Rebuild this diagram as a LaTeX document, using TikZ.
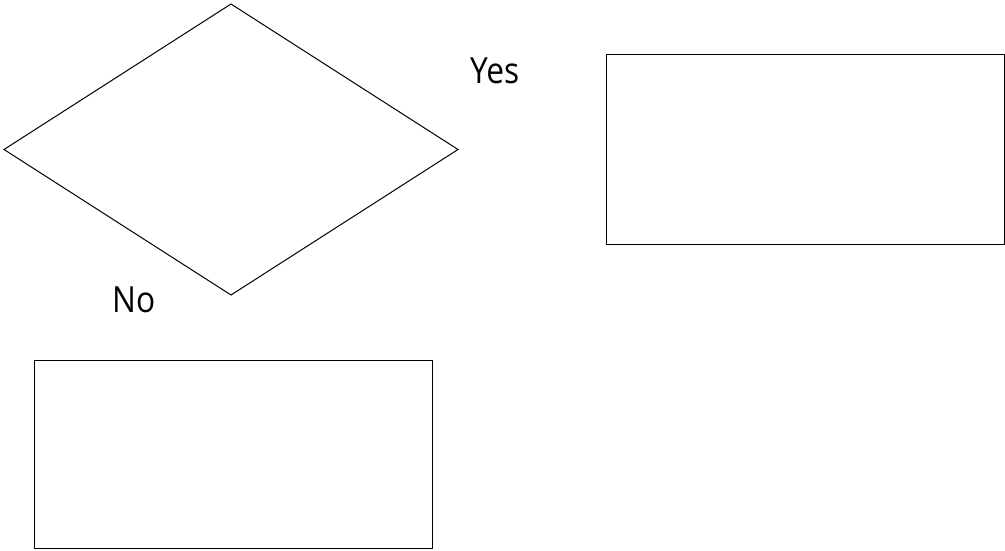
\documentclass[tikz,border=0pt]{standalone}
\usepackage{fontspec}
\setmainfont{Open Sans}
\usetikzlibrary{shapes.geometric}
\begin{document}
\begin{tikzpicture}[x=1pt,y=-1pt,
  shapeline/.style={draw=black, line width=1pt, inner sep=0pt, outer sep=0pt},
  decision/.style={shapeline, diamond, minimum width=454pt, minimum height=291pt, aspect=1.56},
  box/.style={shapeline, rectangle, minimum width=398pt, minimum height=189pt},
  lbl/.style={inner sep=0pt, anchor=base west, font=\fontsize{36}{42}\selectfont}]
\useasboundingbox (0,0) rectangle (1005,551);
\node[decision] (dec) at (231,149.5) {};
\node[box] (b1) at (805,149.5) {};
\node[box, minimum height=188pt] (b2) at (233,454) {};
\node[lbl] (yes) at (470,84) {\scalebox{0.88}[1]{Yes}};
\node[lbl] (no) at (112,312) {\scalebox{0.88}[1]{No}};
\end{tikzpicture}
\end{document}
